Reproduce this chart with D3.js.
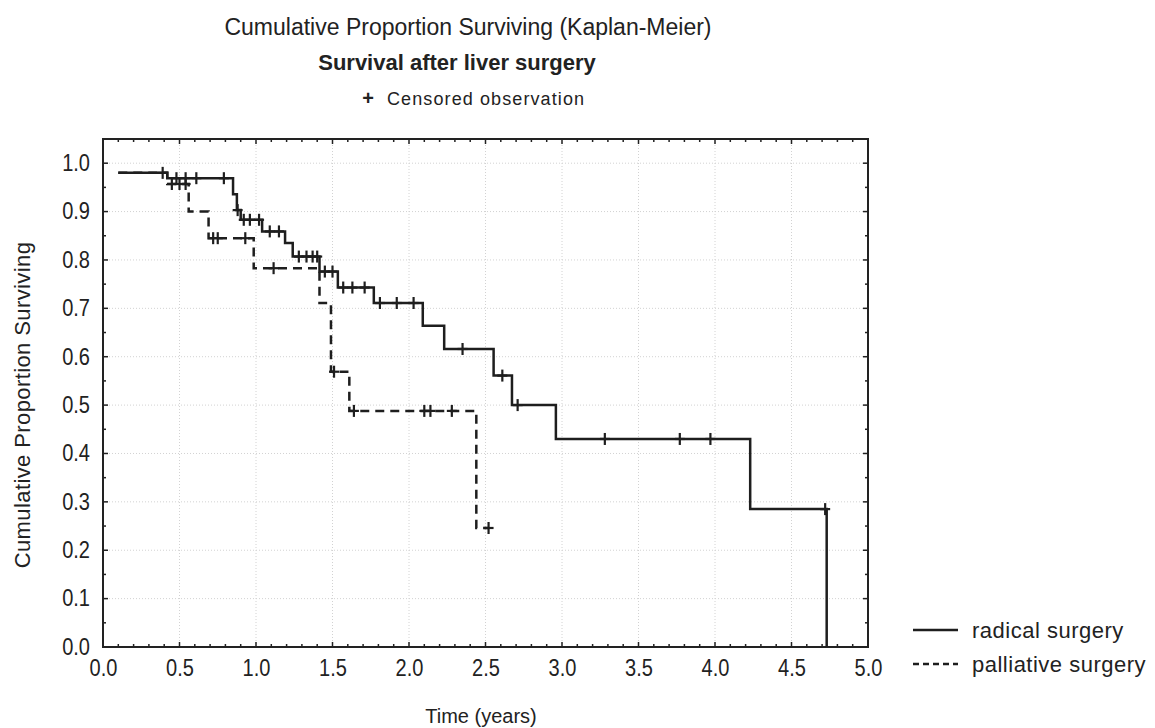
<!DOCTYPE html>
<html>
<head>
<meta charset="utf-8">
<title>Survival after liver surgery</title>
<script src="https://d3js.org/d3.v7.min.js"></script>
<style>
  body { margin: 0; background: #fff; }
  text { font-family: "Liberation Sans", Arial, sans-serif; fill: #222; }
  .grid line { stroke: #d2d2d2; stroke-width: 1; stroke-dasharray: 1,2; }
</style>
</head>
<body>
<div id="chart"></div>
<script>
// step times and survival after each step
const radicalTimes = [0.1, 0.42, 0.85, 0.875, 0.90, 1.04, 1.19, 1.24, 1.415, 1.535, 1.77, 2.09, 2.23, 2.553, 2.673, 2.96, 4.23, 4.73];
const radicalSurv  = [0.98, 0.969, 0.936, 0.903, 0.883, 0.859, 0.835, 0.807, 0.776, 0.743, 0.711, 0.664, 0.616, 0.561, 0.50, 0.430, 0.285, 0.0];
const radicalCensored = [0.39, 0.48, 0.54, 0.61, 0.79, 0.88, 0.92, 0.96, 1.02, 1.09, 1.15, 1.28, 1.33, 1.37, 1.40, 1.45, 1.50, 1.57, 1.63, 1.71, 1.81, 1.92, 2.03, 2.35, 2.61, 2.71, 3.28, 3.77, 3.97, 4.72];

const palliativeTimes = [0.1, 0.42, 0.56, 0.69, 0.985, 1.415, 1.49, 1.61, 2.44];
const palliativeSurv  = [0.98, 0.957, 0.90, 0.845, 0.783, 0.711, 0.569, 0.488, 0.246];
const palliativeCensored = [0.45, 0.50, 0.54, 0.72, 0.75, 0.93, 1.115, 1.51, 1.64, 2.10, 2.14, 2.28, 2.52];

const xTicks = [0, 0.5, 1, 1.5, 2, 2.5, 3, 3.5, 4, 4.5, 5];
const yTicks = [0, 0.1, 0.2, 0.3, 0.4, 0.5, 0.6, 0.7, 0.8, 0.9, 1.0];

const W = 1155, H = 728;
const plotL = 103, plotR = 868, plotT = 139, plotB = 647;

const svg = d3.select('#chart').append('svg')
    .attr('width', W).attr('height', H);

const x = d3.scaleLinear().domain([0, 5]).range([plotL, plotR]);
const y = d3.scaleLinear().domain([0, 1.05]).range([plotB, plotT]);

// grid
const grid = svg.append('g').attr('class', 'grid');
grid.selectAll('.gx').data(xTicks.slice(1, -1)).enter().append('line')
    .attr('x1', d => x(d)).attr('x2', d => x(d)).attr('y1', plotT).attr('y2', plotB);
grid.selectAll('.gy').data(yTicks.slice(1)).enter().append('line')
    .attr('y1', d => y(d)).attr('y2', d => y(d)).attr('x1', plotL).attr('x2', plotR);

// axis labels (narrow, tall digits like the original)
const fmt = d3.format('.1f');
svg.append('g').attr('transform', 'translate(0,' + plotB + ')')
    .call(d3.axisBottom(x).tickValues(xTicks).tickFormat(fmt).tickSize(0).tickPadding(13))
    .call(g => g.select('.domain').remove())
    .selectAll('text').style('font-size', '23px').attr('transform', 'scale(0.87,1)');
svg.append('g').attr('transform', 'translate(' + plotL + ',0)')
    .call(d3.axisLeft(y).tickValues(yTicks).tickFormat(fmt).tickSize(0).tickPadding(15))
    .call(g => g.select('.domain').remove())
    .selectAll('text').style('font-size', '23px').attr('transform', 'scale(0.87,1)');

const minorX = d3.range(0, 51).map(i => i / 10);
const minorY = d3.range(0, 22).map(i => i * 0.05);
const ticks = svg.append('g').attr('stroke', '#222').attr('stroke-width', 1.5);
ticks.selectAll('.tb').data(minorX).enter().append('line')
    .attr('x1', d => x(d)).attr('x2', d => x(d))
    .attr('y1', plotB).attr('y2', d => plotB - (Math.round(d * 10) % 5 === 0 ? 5 : 3));
ticks.selectAll('.tt').data(minorX).enter().append('line')
    .attr('x1', d => x(d)).attr('x2', d => x(d))
    .attr('y1', plotT).attr('y2', d => plotT + (Math.round(d * 10) % 5 === 0 ? 5 : 3));
ticks.selectAll('.tl').data(minorY).enter().append('line')
    .attr('y1', d => y(d)).attr('y2', d => y(d))
    .attr('x1', plotL).attr('x2', d => plotL + (Math.round(d * 20) % 2 === 0 ? 5 : 3));
ticks.selectAll('.tr').data(minorY).enter().append('line')
    .attr('y1', d => y(d)).attr('y2', d => y(d))
    .attr('x1', plotR).attr('x2', d => plotR - (Math.round(d * 20) % 2 === 0 ? 5 : 3));

svg.append('rect')
    .attr('x', plotL).attr('y', plotT)
    .attr('width', plotR - plotL).attr('height', plotB - plotT)
    .attr('fill', 'none').attr('stroke', '#222').attr('stroke-width', 2);

// curves
function survAt(times, surv, t) {
    const i = d3.bisectRight(times, t) - 1;
    return surv[Math.max(i, 0)];
}
function curvePoints(times, surv, cens) {
    const pts = times.map((t, i) => [t, surv[i]]);
    const lastC = d3.max(cens);
    if (lastC > times[times.length - 1]) pts.push([lastC, surv[surv.length - 1]]);
    return pts;
}
const line = d3.line().x(d => x(d[0])).y(d => y(d[1])).curve(d3.curveStepAfter);

const series = [
    { times: palliativeTimes, surv: palliativeSurv, cens: palliativeCensored, dash: '9,6' },
    { times: radicalTimes, surv: radicalSurv, cens: radicalCensored, dash: null }
];

series.forEach(s => {
    svg.append('path')
        .datum(curvePoints(s.times, s.surv, s.cens))
        .attr('d', line)
        .attr('fill', 'none')
        .attr('stroke', '#1e1e1e')
        .attr('stroke-width', 2.5)
        .attr('stroke-dasharray', s.dash);
    const cg = svg.append('g').attr('stroke', '#1e1e1e').attr('stroke-width', 2.2);
    cg.selectAll('.cv').data(s.cens).enter().append('line')
        .attr('x1', d => x(d)).attr('x2', d => x(d))
        .attr('y1', d => y(survAt(s.times, s.surv, d)) - 6)
        .attr('y2', d => y(survAt(s.times, s.surv, d)) + 6);
    cg.selectAll('.ch').data(s.cens).enter().append('line')
        .attr('x1', d => x(d) - 5).attr('x2', d => x(d) + 5)
        .attr('y1', d => y(survAt(s.times, s.surv, d)))
        .attr('y2', d => y(survAt(s.times, s.surv, d)));
});

// titles
svg.append('text').attr('x', 468).attr('y', 35).attr('text-anchor', 'middle')
    .style('font-size', '23px').text('Cumulative Proportion Surviving (Kaplan-Meier)');
svg.append('text').attr('x', 457).attr('y', 70).attr('text-anchor', 'middle')
    .style('font-size', '22px').style('font-weight', 'bold').text('Survival after liver surgery');
svg.append('text').attr('x', 368).attr('y', 105).attr('text-anchor', 'middle')
    .style('font-size', '20px').style('font-weight', 'bold').text('+');
svg.append('text').attr('x', 387).attr('y', 105)
    .style('font-size', '18px').style('letter-spacing', '1.1px').text('Censored observation');

// axis titles
svg.append('text').attr('x', 481).attr('y', 723).attr('text-anchor', 'middle')
    .style('font-size', '20px').text('Time (years)');
svg.append('text').attr('transform', 'translate(30,405) rotate(-90)').attr('text-anchor', 'middle')
    .style('font-size', '22px').style('letter-spacing', '0.4px').text('Cumulative Proportion Surviving');

// legend
const legend = [{ name: 'radical surgery', dash: null }, { name: 'palliative surgery', dash: '6,4' }];
const lg = svg.append('g').selectAll('g').data(legend).enter().append('g')
    .attr('transform', (d, i) => 'translate(913,' + (630 + i * 34) + ')');
lg.append('line').attr('x1', 0).attr('x2', 45).attr('y1', 0).attr('y2', 0)
    .attr('stroke', '#1e1e1e').attr('stroke-width', 2.5).attr('stroke-dasharray', d => d.dash);
lg.append('text').attr('x', 59).attr('y', 8).style('font-size', '22px').style('letter-spacing', '0.5px').text(d => d.name);
</script>
</body>
</html>
